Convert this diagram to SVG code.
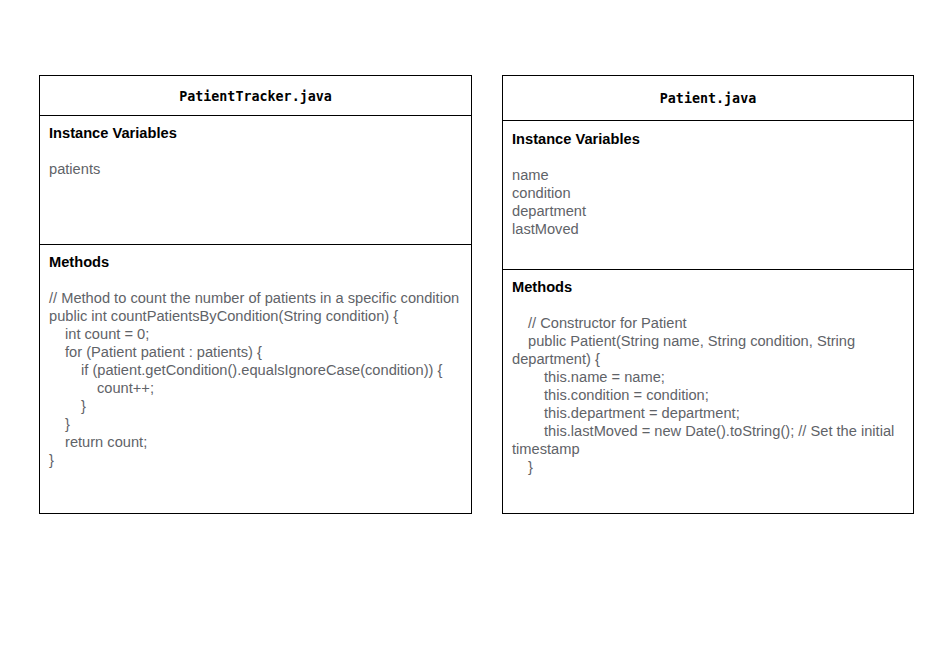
<svg xmlns="http://www.w3.org/2000/svg" width="945" height="648" viewBox="0 0 945 648">
<style>
.box{fill:#fff;stroke:#000;stroke-width:1}
.ln{stroke:#000;stroke-width:1}
.title{font-family:"DejaVu Sans Mono","Liberation Mono",monospace;font-weight:bold;font-size:13.35px;fill:#000;text-anchor:middle}
.hd{font-family:"Liberation Sans",Arial,sans-serif;font-weight:bold;font-size:14.65px;fill:#000}
.tx{font-family:"Liberation Sans",Arial,sans-serif;font-size:14.65px;fill:#5f6368}
</style>
<rect width="945" height="648" fill="#fff"/>
<g id="PatientTracker">
<rect class="box" x="39.5" y="75.5" width="432" height="438"/>
<line class="ln" x1="39.5" y1="115.5" x2="471.5" y2="115.5"/>
<line class="ln" x1="39.5" y1="244.5" x2="471.5" y2="244.5"/>
<text class="title" x="255.5" y="101">PatientTracker.java</text>
<text class="hd" x="49" y="138">Instance Variables</text>
<text class="tx" x="49" y="174">patients</text>
<text class="hd" x="49" y="267">Methods</text>
<text class="tx" x="49" y="303">// Method to count the number of patients in a specific condition</text>
<text class="tx" x="49" y="321">public int countPatientsByCondition(String condition) {</text>
<text class="tx" x="65" y="339">int count = 0;</text>
<text class="tx" x="65" y="357">for (Patient patient : patients) {</text>
<text class="tx" x="81" y="375">if (patient.getCondition().equalsIgnoreCase(condition)) {</text>
<text class="tx" x="97" y="393">count++;</text>
<text class="tx" x="81" y="411">}</text>
<text class="tx" x="65" y="429">}</text>
<text class="tx" x="65" y="447">return count;</text>
<text class="tx" x="49" y="465">}</text>
</g>
<g id="Patient">
<rect class="box" x="502.5" y="75.5" width="411" height="438"/>
<line class="ln" x1="502.5" y1="120.5" x2="913.5" y2="120.5"/>
<line class="ln" x1="502.5" y1="269.5" x2="913.5" y2="269.5"/>
<text class="title" x="708" y="103">Patient.java</text>
<text class="hd" x="512" y="144">Instance Variables</text>
<text class="tx" x="512" y="180">name</text>
<text class="tx" x="512" y="198">condition</text>
<text class="tx" x="512" y="216">department</text>
<text class="tx" x="512" y="234">lastMoved</text>
<text class="hd" x="512" y="292">Methods</text>
<text class="tx" x="528" y="328">// Constructor for Patient</text>
<text class="tx" x="528" y="346">public Patient(String name, String condition, String</text>
<text class="tx" x="512" y="364">department) {</text>
<text class="tx" x="544" y="382">this.name = name;</text>
<text class="tx" x="544" y="400">this.condition = condition;</text>
<text class="tx" x="544" y="418">this.department = department;</text>
<text class="tx" x="544" y="436">this.lastMoved = new Date().toString(); // Set the initial</text>
<text class="tx" x="512" y="454">timestamp</text>
<text class="tx" x="528" y="472">}</text>
</g>
<g id="connectors"></g>
</svg>
